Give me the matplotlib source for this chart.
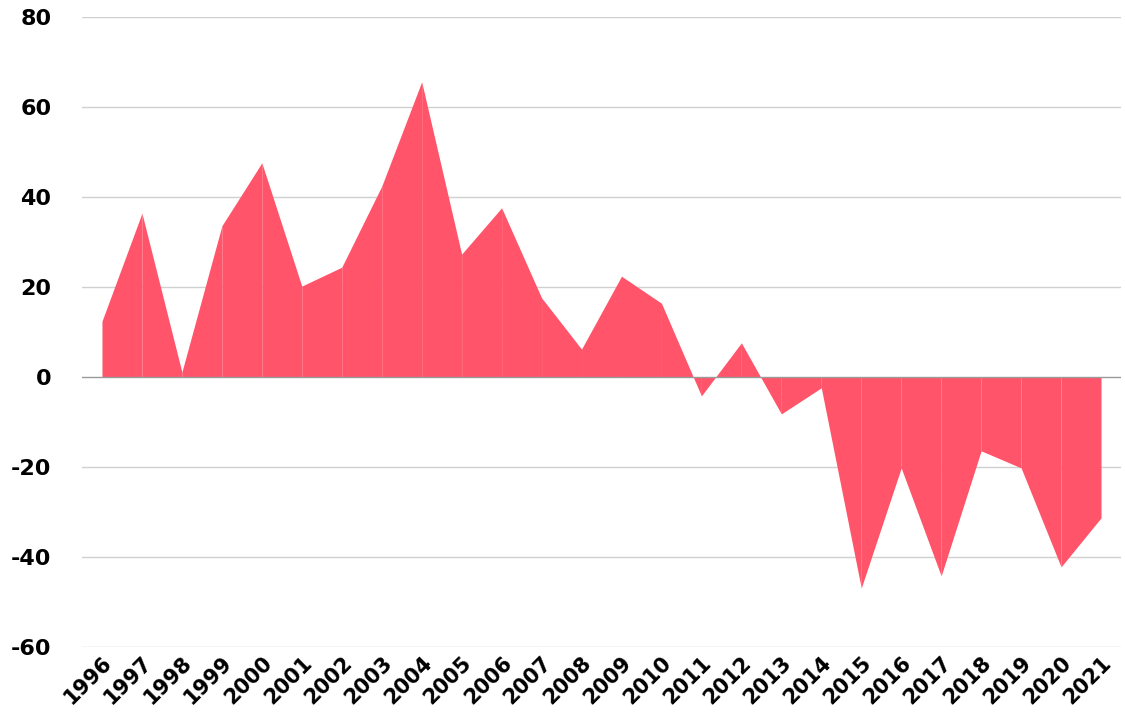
import matplotlib.pyplot as plt

years = list(range(1996, 2022))
values = [12.4, 36.4, 1.1, 33.6, 47.6, 20.2, 24.4, 42.4, 65.6, 27.3,
          37.6, 17.6, 6.2, 22.4, 16.4, -4.2, 7.6, -8.2, -2.4, -46.9,
          -20.2, -44.2, -16.4, -20.2, -42.2, -31.3]
yticks = [-60, -40, -20, 0, 20, 40, 60, 80]

plt.rcParams['font.family'] = ['DejaVu Sans']

fig = plt.figure(figsize=(11.25, 7.22), dpi=100)
ax = fig.add_axes([82 / 1125, 1 - 647 / 722, (1121 - 82) / 1125, 630 / 722])

# one patch per year segment, gives the faint seams
for i in range(len(years) - 1):
    ax.fill_between(years[i:i + 2], values[i:i + 2], 0, color='#ff5469',
                    linewidth=0, zorder=2)

for y in yticks:
    if y == 0:
        ax.axhline(y, color='#9a9a9a', lw=1, zorder=4)
    else:
        ax.axhline(y, color='#d0d0d0', lw=1, zorder=1)

ax.set_xlim(1995.5, 2021.5)
ax.set_ylim(-60, 80)
ax.set_yticks(yticks)
ax.set_yticklabels([str(v) for v in yticks])
ax.set_xticks(years)
ax.set_xticklabels([str(y) for y in years], rotation=45, ha='right',
                   rotation_mode='anchor')
ax.tick_params(axis='both', length=0)
ax.tick_params(axis='y', pad=22, labelsize=16)
ax.tick_params(axis='x', pad=4, labelsize=15)
for lab in ax.get_xticklabels() + ax.get_yticklabels():
    lab.set_fontweight('bold')
for s in ax.spines.values():
    s.set_visible(False)

fig.savefig('out.png', dpi=100)
